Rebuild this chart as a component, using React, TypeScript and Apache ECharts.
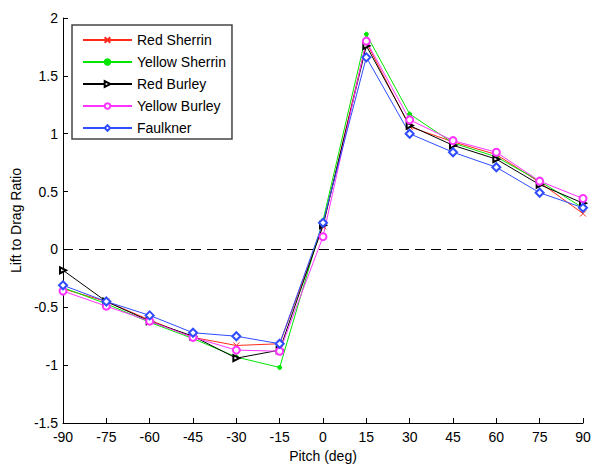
import React, { useEffect, useRef } from "react";
import * as echarts from "echarts";

const pitch = [-90, -75, -60, -45, -30, -15, 0, 15, 30, 45, 60, 75, 90];
const redSherrin = [-0.34, -0.45, -0.61, -0.76, -0.83, -0.815, 0.2, 1.79, 1.06, 0.93, 0.82, 0.58, 0.31];
const yellowSherrin = [-0.33, -0.47, -0.63, -0.77, -0.93, -1.02, 0.25, 1.86, 1.17, 0.92, 0.8, 0.59, 0.36];
const redBurley = [-0.18, -0.45, -0.62, -0.75, -0.94, -0.87, 0.21, 1.76, 1.07, 0.9, 0.78, 0.56, 0.4];
const yellowBurley = [-0.36, -0.49, -0.62, -0.76, -0.87, -0.88, 0.11, 1.8, 1.12, 0.94, 0.84, 0.59, 0.44];
const faulkner = [-0.31, -0.45, -0.57, -0.72, -0.75, -0.815, 0.23, 1.66, 1.0, 0.84, 0.71, 0.49, 0.36];

const seriesNames = ["Red Sherrin", "Yellow Sherrin", "Red Burley", "Yellow Burley", "Faulkner"];
const xTicks = { min: -90, max: 90, interval: 15 };
const yTicks = { min: -1.5, max: 2, interval: 0.5 };

const FONT = "'Liberation Sans', Arial, sans-serif";

export default function App() {
  const ref = useRef<HTMLDivElement>(null);
  useEffect(() => {
    if (!ref.current) return;
    const chart = echarts.init(ref.current, undefined, { renderer: "svg" });
    const mk = (name: string, values: number[], color: string, symbol: string, size: number, extra: any = {}) => ({
      name,
      type: "line",
      data: pitch.map((p, i) => [p, values[i]]),
      symbol,
      symbolSize: size,
      showSymbol: true,
      lineStyle: { color, width: 1 },
      itemStyle: { color, borderColor: color, borderWidth: 1 },
      emphasis: { disabled: true },
      ...extra,
    });
    chart.setOption({
      animation: false,
      backgroundColor: "#fff",
      textStyle: { fontFamily: FONT },
      grid: { left: 63, right: 10, top: 18, bottom: 41, containLabel: false, outerBoundsMode: "none" },
      legend: {
        left: 72,
        top: 25,
        orient: "vertical",
        data: seriesNames,
        itemWidth: 49,
        itemHeight: 7,
        itemGap: 8,
        padding: [8, 6, 4, 10],
        borderColor: "#444",
        borderWidth: 1.5,
        backgroundColor: "#fff",
        textStyle: { fontFamily: FONT, fontSize: 14, color: "#000", lineHeight: 14 },
      },
      xAxis: {
        type: "value",
        min: xTicks.min,
        max: xTicks.max,
        interval: xTicks.interval,
        name: "Pitch (deg)",
        nameLocation: "middle",
        nameGap: 25,
        nameTextStyle: { fontFamily: FONT, fontSize: 14, color: "#000" },
        axisLine: { show: true, onZero: false, lineStyle: { color: "#000", width: 1 } },
        axisTick: { show: true, inside: true, length: 5, lineStyle: { color: "#000" } },
        axisLabel: { fontFamily: FONT, fontSize: 14, color: "#000", margin: 7 },
        splitLine: { show: false },
      },
      yAxis: {
        type: "value",
        min: yTicks.min,
        max: yTicks.max,
        interval: yTicks.interval,
        name: "Lift to Drag Ratio",
        nameLocation: "middle",
        nameGap: 40,
        nameTextStyle: { fontFamily: FONT, fontSize: 14, color: "#000" },
        axisLine: { show: true, onZero: false, lineStyle: { color: "#000", width: 1 } },
        axisTick: { show: true, inside: true, length: 5, lineStyle: { color: "#000" } },
        axisLabel: { fontFamily: FONT, fontSize: 14, color: "#000", margin: 5 },
        splitLine: { show: false },
      },
      series: [
        mk(seriesNames[0], redSherrin, "#ff2a1a", "path://M0,0L10,10M10,0L0,10", 6, {
          markLine: {
            silent: true,
            symbol: "none",
            label: { show: false },
            lineStyle: { color: "#000", type: [10, 6], width: 1 },
            data: [{ yAxis: 0 }],
          },
        }),
        mk(seriesNames[1], yellowSherrin, "#00e600", "circle", 4),
        mk(seriesNames[2], redBurley, "#000000", "emptyTriangle", 6, { symbolRotate: -90 }),
        mk(seriesNames[3], yellowBurley, "#ff33ff", "emptyCircle", 7),
        mk(seriesNames[4], faulkner, "#2f4dff", "emptyDiamond", 8),
      ],
    });
    return () => chart.dispose();
  }, []);
  return <div ref={ref} style={{ width: 593, height: 464, position: "absolute", left: 0, top: 0 }} />;
}
